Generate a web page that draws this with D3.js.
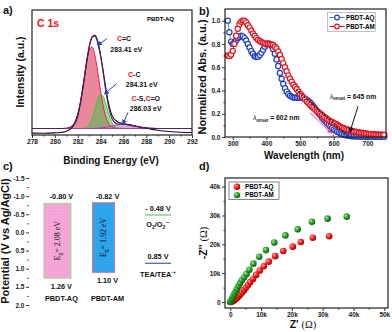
<!DOCTYPE html>
<html>
<head>
<meta charset="utf-8">
<script src="https://cdn.jsdelivr.net/npm/d3@7"></script>
<style>
body{margin:0;background:#fff}
svg{display:block;font-family:"Liberation Sans",Arial,sans-serif}
.axis text{font-size:6.5px;font-weight:bold;fill:#222}
.axis line{stroke:#222;stroke-width:0.9}
.frame{fill:none;stroke:#222;stroke-width:1.2}
.title{font-size:10.5px;font-weight:bold;fill:#111}
.plabel{font-size:11px;font-weight:bold;fill:#111}
.note{font-size:7px;font-weight:bold;fill:#111}
</style>
</head>
<body>
<svg id="fig" width="392" height="332"></svg>
<script>
// ---------- a) XPS C 1s ----------
const xpsEnergy = [278,279,280,280.5,281,281.5,282,282.25,282.5,282.75,283,283.25,283.5,283.75,284,284.25,284.5,284.75,285,285.5,286,286.5,287,287.5,288,288.5,289,290,291,292];
const xpsRaw = [.015,.014,.017,.02,.03,.06,.15,.26,.40,.56,.70,.78,.80,.75,.64,.50,.35,.23,.155,.105,.09,.08,.07,.062,.055,.045,.038,.028,.022,.02];
const xpsEnvelope = [.052,.052,.052,.052,.054,.071,.165,.270,.414,.573,.706,.782,.791,.738,.631,.484,.329,.206,.131,.088,.087,.083,.073,.063,.057,.054,.052,.052,.052,.052];
const xpsCdC = [.052,.052,.052,.052,.054,.071,.165,.269,.412,.564,.676,.705,.639,.505,.352,.222,.135,.087,.065,.053,.052,.052,.052,.052,.052,.052,.052,.052,.052,.052];
const xpsCC = [.052,.052,.052,.052,.052,.052,.052,.052,.054,.061,.082,.128,.202,.282,.326,.306,.235,.155,.097,.056,.052,.052,.052,.052,.052,.052,.052,.052,.052,.052];
const xpsCO = [.052,.052,.052,.052,.052,.052,.052,.052,.052,.052,.052,.053,.054,.055,.057,.060,.063,.068,.073,.083,.087,.083,.073,.063,.057,.054,.052,.052,.052,.052];
const xpsBackground = .052;
const aTicks = [278,280,282,284,286,288,290,292];
const aMinor = [279,281,283,285,287,289,291];

// ---------- b) UV-vis ----------
const wavelength = [285,290,295,300,305,310,315,320,325,330,
  335,340,345,350,355,360,365,370,375,380,
  385,390,395,400,405,410,415,420,425,430,
  435,440,445,450,455,460,465,470,475,480,
  485,490,495,500,505,510,515,520,525,530,
  535,540,545,550,555,560,565,570,575,580,
  585,590,595,600,605,610,615,620,625,630,
  635,640,645,650,655,660,665,670,675,680,
  685,690,695,700,705,710,715,720,725,730,
  735,740,745,750];
const absAQ = [1.00,0.90,0.82,0.80,0.81,0.83,0.85,0.86,0.87,0.865,
  0.85,0.83,0.80,0.77,0.74,0.715,0.695,0.688,0.69,0.705,
  0.725,0.75,0.775,0.795,0.805,0.80,0.785,0.755,0.715,0.665,
  0.61,0.55,0.50,0.455,0.42,0.39,0.37,0.355,0.345,0.34,
  0.338,0.337,0.337,0.337,0.336,0.333,0.327,0.318,0.307,0.295,
  0.28,0.262,0.243,0.223,0.204,0.186,0.168,0.151,0.135,0.12,
  0.105,0.09,0.077,0.065,0.055,0.046,0.038,0.031,0.025,0.02,
  0.016,0.012,0.01,0.008,0.007,0.006,0.005,0.005,0.004,0.004,
  0.004,0.003,0.003,0.003,0.003,0.003,0.002,0.002,0.002,0.002,
  0.002,0.002,0.002,0.002];
const absAM = [0.70,0.695,0.71,0.74,0.80,0.87,0.93,0.97,0.99,1.00,
  1.00,0.985,0.96,0.94,0.915,0.89,0.87,0.85,0.835,0.825,
  0.815,0.81,0.805,0.80,0.80,0.80,0.795,0.79,0.775,0.76,
  0.735,0.705,0.67,0.635,0.60,0.565,0.53,0.50,0.475,0.45,
  0.43,0.41,0.39,0.37,0.355,0.34,0.325,0.305,0.29,0.275,
  0.26,0.25,0.235,0.22,0.21,0.20,0.19,0.175,0.165,0.155,
  0.145,0.135,0.13,0.12,0.115,0.105,0.095,0.088,0.08,0.075,
  0.07,0.065,0.06,0.056,0.052,0.048,0.045,0.042,0.039,0.036,
  0.034,0.032,0.03,0.028,0.027,0.025,0.024,0.023,0.022,0.021,
  0.02,0.02,0.019,0.018];
const tangentAQ = [[490,0.46],[602,0]];
const tangentAM = [[489,0.405],[645,0]];
const bTicks = [300,400,500,600,700];
const bMinor = [350,450,550,650,750];
const bYTicks = [0,0.2,0.4,0.6,0.8,1.0];
const bYMinor = [0.1,0.3,0.5,0.7,0.9];

// ---------- c) band positions ----------
const materials = ["PBDT-AQ","PBDT-AM"];
const cbLevel = [-0.80,-0.82];
const vbLevel = [1.26,1.10];
const gapValue = ["2.08","1.92"];
const coupleLevel = [-0.48,0.85];
const cTicks = [-1.5,-1.0,-0.5,0.0,0.5,1.0,1.5,2.0];
const cMinor = [-1.25,-0.75,-0.25,0.25,0.75,1.25,1.75];

// ---------- d) EIS Nyquist ----------
const zReAQ = [100,400,800,1300,1800,2300,2800,3300,3900,4500,5100,5800,6500,7400,8400,9600,10900,12500,14600,17200,20300,22900,26800,32100];
const zImAQ = [0,100,300,600,1000,1500,2100,2700,3400,4200,5000,5900,6900,8000,9400,10900,12400,14000,15900,17700,19200,20800,22300,22800];
const zReAM = [0,200,400,700,1000,1400,1800,2200,2700,3200,3800,4500,5300,6200,7500,9400,11600,14300,17900,21900,26500,31600,37800];
const zImAM = [0,300,800,1400,2100,2900,3700,4600,5600,6600,7600,8600,9700,11200,13300,15700,18000,20600,23100,25200,27800,28900,29600];
const dTicks = [0,10000,20000,30000,40000,50000];
const dMinor = [5000,15000,25000,35000,45000];
const dYTicks = [0,10000,20000,30000,40000];
const dYMinor = [5000,15000,25000,35000];

const svg = d3.select("#fig");
const defs = svg.append("defs");

function arrowHead(id, color) {
    defs.append("marker").attr("id", id)
        .attr("viewBox", "0 0 10 10").attr("refX", 8).attr("refY", 5)
        .attr("markerWidth", 5).attr("markerHeight", 5).attr("orient", "auto")
        .append("path").attr("d", "M0,0L10,5L0,10z").attr("fill", color);
}
arrowHead("arBlue", "#2340c8");
arrowHead("arPink", "#ff3d7f");
arrowHead("arBlack", "#111");

function sphere(id, hi, mid, lo) {
    const gr = defs.append("radialGradient").attr("id", id)
        .attr("cx", "35%").attr("cy", "35%").attr("r", "65%");
    gr.append("stop").attr("offset", "0%").attr("stop-color", hi);
    gr.append("stop").attr("offset", "50%").attr("stop-color", mid);
    gr.append("stop").attr("offset", "100%").attr("stop-color", lo);
}
sphere("sphRed", "#ffb0b0", "#ff2020", "#b00000");
sphere("sphGreen", "#a8e8a8", "#2ea42e", "#0b650b");

function dots(id, bg, dot) {
    const p = defs.append("pattern").attr("id", id).attr("patternUnits", "userSpaceOnUse")
        .attr("width", 3).attr("height", 3);
    p.append("rect").attr("width", 3).attr("height", 3).attr("fill", bg);
    p.append("circle").attr("cx", 1).attr("cy", 1).attr("r", 0.45).attr("fill", dot);
}
dots("dotPink", "#f7a8d8", "#c76aa6");
dots("dotBlue", "#2ea7ee", "#1a7cc0");

function frame(x, y) {
    svg.append("rect").attr("class", "frame")
        .attr("x", x.range()[0]).attr("y", y.range()[1])
        .attr("width", x.range()[1] - x.range()[0])
        .attr("height", y.range()[0] - y.range()[1]);
}

function bottomAxis(scale, yPos, major, minor, fmt) {
    svg.append("g").attr("class", "axis").attr("transform", "translate(0," + yPos + ")")
        .call(d3.axisBottom(scale).tickValues(minor).tickSize(1.6).tickFormat(""))
        .select(".domain").remove();
    svg.append("g").attr("class", "axis").attr("transform", "translate(0," + yPos + ")")
        .call(d3.axisBottom(scale).tickValues(major).tickSize(3).tickPadding(1.5).tickFormat(fmt))
        .select(".domain").remove();
}

function leftAxis(scale, xPos, major, minor, fmt) {
    svg.append("g").attr("class", "axis").attr("transform", "translate(" + xPos + ",0)")
        .call(d3.axisLeft(scale).tickValues(minor).tickSize(1.6).tickFormat(""))
        .select(".domain").remove();
    svg.append("g").attr("class", "axis").attr("transform", "translate(" + xPos + ",0)")
        .call(d3.axisLeft(scale).tickValues(major).tickSize(3).tickPadding(1.5).tickFormat(fmt))
        .select(".domain").remove();
}

function panelLabel(txt, x, y) {
    svg.append("text").attr("class", "plabel").attr("x", x).attr("y", y).text(txt);
}

function vTitle(txt, x, y, size) {
    svg.append("text").attr("class", "title")
        .attr("transform", "translate(" + x + "," + y + ") rotate(-90)")
        .attr("text-anchor", "middle").style("font-size", size + "px").text(txt);
}

function hTitle(txt, x, y, size) {
    svg.append("text").attr("class", "title").attr("x", x).attr("y", y)
        .attr("text-anchor", "middle").style("font-size", size + "px").text(txt);
}

// ================= panel a =================
const ax = d3.scaleLinear().domain([278, 292]).range([32, 192]);
const ay = d3.scaleLinear().domain([0, 1]).range([135, 10]);

const compArea = function (vals) {
    return d3.area()
        .x(function (d, i) { return ax(xpsEnergy[i]); })
        .y0(ay(xpsBackground))
        .y1(function (d) { return ay(d); })
        .curve(d3.curveMonotoneX)(vals);
};
const xpsLine = d3.line()
    .x(function (d, i) { return ax(xpsEnergy[i]); })
    .y(function (d) { return ay(d); })
    .curve(d3.curveMonotoneX);

svg.append("path").attr("d", compArea(xpsCdC)).attr("fill", "#e46a82").attr("fill-opacity", 0.8);
svg.append("path").attr("d", compArea(xpsCC)).attr("fill", "#4fbf4f").attr("fill-opacity", 0.55);
svg.append("path").attr("d", compArea(xpsCO)).attr("fill", "#b27ab8").attr("fill-opacity", 0.6);

svg.append("path").attr("d", xpsLine(xpsCdC)).attr("fill", "none").attr("stroke", "#ff1450").attr("stroke-width", 1);
svg.append("path").attr("d", xpsLine(xpsCC)).attr("fill", "none").attr("stroke", "#2fd02f").attr("stroke-width", 1);
svg.append("path").attr("d", xpsLine(xpsCO)).attr("fill", "none").attr("stroke", "#c030b0").attr("stroke-width", 1);
svg.append("line")
    .attr("x1", ax(278)).attr("x2", ax(292)).attr("y1", ay(xpsBackground)).attr("y2", ay(xpsBackground))
    .attr("stroke", "#a040c0").attr("stroke-width", 1);
svg.append("path").attr("d", xpsLine(xpsRaw)).attr("fill", "none").attr("stroke", "#111").attr("stroke-width", 1.1);
svg.append("path").attr("d", xpsLine(xpsEnvelope)).attr("fill", "none").attr("stroke", "#5a1a6a").attr("stroke-width", 1.1);

frame(ax, ay);
bottomAxis(ax, 135, aTicks, aMinor, d3.format("d"));

svg.append("text").attr("x", 37).attr("y", 27).attr("fill", "#ee1111")
    .style("font-size", "10.5px").style("font-weight", "bold").text("C 1s");
svg.append("text").attr("x", 147).attr("y", 21).style("font-size", "6px").style("font-weight", "bold").text("PBDT-AQ");

function xpsNote(parts, e, v) {
    const t = svg.append("text").attr("class", "note").attr("text-anchor", "middle")
        .attr("x", ax(e)).attr("y", ay(v));
    parts.forEach(function (p) {
        t.append("tspan").attr("fill", p[1] ? "#ee1111" : "#111").text(p[0]);
    });
}
xpsNote([["C", 1], ["=C", 0]], 286.05, 0.75);
xpsNote([["283.41 eV", 0]], 286.25, 0.665);
xpsNote([["C", 1], ["-C", 0]], 286.95, 0.465);
xpsNote([["284.31 eV", 0]], 287.6, 0.385);
xpsNote([["C", 1], ["-S,", 0], ["C", 1], ["=O", 0]], 287.95, 0.275);
xpsNote([["286.03 eV", 0]], 287.95, 0.19);

[[284.55, 0.77, 283.75, 0.72], [285.4, 0.41, 284.35, 0.33], [286.4, 0.18, 285.95, 0.09]].forEach(function (a) {
    svg.append("line").attr("x1", ax(a[0])).attr("y1", ay(a[1])).attr("x2", ax(a[2])).attr("y2", ay(a[3]))
        .attr("stroke", "#2340c8").attr("stroke-width", 1).attr("marker-end", "url(#arBlue)");
});

panelLabel("a)", 3, 14);
vTitle("Intensity (a.u.)", 24, 72, 10.5);
hTitle("Binding Energy (eV)", 111, 164, 10);

// ================= panel b =================
const bx = d3.scaleLinear().domain([277, 755]).range([225, 386]);
const by = d3.scaleLinear().domain([0, 1.1]).range([137, 9]);

const uvLine = d3.line()
    .x(function (d, i) { return bx(wavelength[i]); })
    .y(function (d) { return by(d); });

function uvSeries(vals, lineColor, markColor) {
    svg.append("path").attr("d", uvLine(vals)).attr("fill", "none").attr("stroke", lineColor).attr("stroke-width", 0.8);
    svg.append("g").selectAll("circle").data(vals).join("circle")
        .attr("cx", function (d, i) { return bx(wavelength[i]); })
        .attr("cy", function (d) { return by(d); })
        .attr("r", 2.6).attr("fill", "#fff").attr("stroke", markColor).attr("stroke-width", 1.2);
}
uvSeries(absAQ, "#1a9090", "#1d3fc4");
uvSeries(absAM, "#c0102a", "#e4141e");

const tanLine = d3.line().x(function (d) { return bx(d[0]); }).y(function (d) { return by(d[1]); });
svg.append("path").attr("d", tanLine(tangentAQ)).attr("stroke", "#ff2a3a").attr("stroke-width", 1.3)
    .attr("stroke-dasharray", "1.3,2").attr("fill", "none");
svg.append("path").attr("d", tanLine(tangentAM)).attr("stroke", "#111").attr("stroke-width", 1.4)
    .attr("stroke-dasharray", "1.4,2").attr("fill", "none");

svg.append("line").attr("x1", bx(529)).attr("y1", by(0.21)).attr("x2", bx(592)).attr("y2", by(0.035))
    .attr("stroke", "#ff3d7f").attr("stroke-width", 1).attr("marker-end", "url(#arPink)");
svg.append("line").attr("x1", bx(672)).attr("y1", by(0.265)).attr("x2", bx(648)).attr("y2", by(0.045))
    .attr("stroke", "#111").attr("stroke-width", 1).attr("marker-end", "url(#arBlack)");

function onsetLabel(nm, x, y) {
    const t = svg.append("text").attr("x", x).attr("y", y).attr("fill", "#111")
        .style("font-size", "6.8px").style("font-weight", "bold");
    t.append("tspan").style("font-style", "italic").style("font-weight", "normal").text("\u03bb");
    t.append("tspan").style("font-size", "4.5px").attr("dy", 1.8).text("onset");
    t.append("tspan").attr("dy", -1.8).text(" = " + nm + " nm");
}
onsetLabel(602, bx(360), by(0.145));
onsetLabel(645, bx(588), by(0.33));

frame(bx, by);
bottomAxis(bx, 137, bTicks, bMinor, d3.format("d"));
leftAxis(by, 225, bYTicks, bYMinor, d3.format(".1f"));

// legend b
const lgB = svg.append("g").attr("transform", "translate(327.5,12.5)");
lgB.append("rect").attr("width", 48).attr("height", 19).attr("fill", "#fff").attr("stroke", "#999").attr("stroke-width", 0.6);
[["PBDT-AQ", "#1a9090", "#1d3fc4"], ["PBDT-AM", "#c0102a", "#e4141e"]].forEach(function (s, i) {
    const yy = 5 + i * 9;
    lgB.append("line").attr("x1", 2).attr("x2", 17).attr("y1", yy).attr("y2", yy).attr("stroke", s[1]).attr("stroke-width", 1);
    lgB.append("circle").attr("cx", 9.5).attr("cy", yy).attr("r", 2.3).attr("fill", "#fff").attr("stroke", s[2]).attr("stroke-width", 1.2);
    lgB.append("text").attr("x", 18.5).attr("y", yy + 2.3).style("font-size", "6.3px").style("font-weight", "bold").text(s[0]);
});

panelLabel("b)", 199, 15);
vTitle("Normalized Abs. (a.u.)", 206, 77, 11);
hTitle("Wavelength (nm)", 304, 159, 10);

// ================= panel c =================
const cx = d3.scaleLinear().domain([0, 3.5]).range([29, 192]);
const cy = d3.scaleLinear().domain([-1.5, 2.0]).range([178, 305]);
const barSlot = [0.61, 1.6];
const barWidth = [27, 22];
const barFill = ["url(#dotPink)", "url(#dotBlue)"];
const barEdge = ["#9fd69f", "#e8708a"];

materials.forEach(function (m, i) {
    const xc = cx(barSlot[i]);
    svg.append("rect").attr("x", xc - barWidth[i] / 2).attr("width", barWidth[i])
        .attr("y", cy(cbLevel[i])).attr("height", cy(vbLevel[i]) - cy(cbLevel[i]))
        .attr("fill", barFill[i]).attr("stroke", barEdge[i]).attr("stroke-width", 1);
    svg.append("text").attr("class", "note").attr("text-anchor", "middle").style("font-size", "7.3px")
        .attr("x", xc + 4).attr("y", cy(cbLevel[i]) - 4).text(cbLevel[i].toFixed(2) + " V");
    svg.append("text").attr("class", "note").attr("text-anchor", "middle").style("font-size", "7.3px")
        .attr("x", xc + 4).attr("y", cy(vbLevel[i]) + 10.5).text(vbLevel[i].toFixed(2) + " V");
    svg.append("text").attr("class", "note").attr("text-anchor", "middle").style("font-size", "7.3px")
        .attr("x", xc + 4).attr("y", 300.5).text(m);
    const g = svg.append("text").attr("text-anchor", "middle")
        .attr("transform", "translate(" + (xc + 2.8) + "," + cy((cbLevel[i] + vbLevel[i]) / 2) + ") rotate(-90)")
        .style("font-family", "'Liberation Serif','Times New Roman',serif").style("font-size", "8px").attr("fill", "#111");
    g.append("tspan").text("E");
    g.append("tspan").style("font-size", "5.5px").attr("dy", 1.6).text("g");
    g.append("tspan").attr("dy", -1.6).text("= " + gapValue[i] + " eV");
});

const coupleSlot = 2.77;
const coupleColor = ["#6cc86c", "#4a57a8"];
coupleLevel.forEach(function (v, i) {
    const xc = cx(coupleSlot);
    svg.append("line").attr("x1", xc - 13).attr("x2", xc + 13).attr("y1", cy(v)).attr("y2", cy(v))
        .attr("stroke", coupleColor[i]).attr("stroke-width", 1.2);
    svg.append("text").attr("class", "note").attr("text-anchor", "middle").style("font-size", "7.3px")
        .attr("x", xc).attr("y", cy(v) - 4).text(v < 0 ? "- " + Math.abs(v).toFixed(2) + " V" : v.toFixed(2) + " V");
});
// couple names with sub/superscripts
(function () {
    const xc = cx(coupleSlot);
    const t1 = svg.append("text").attr("class", "note").attr("text-anchor", "middle").style("font-size", "7.3px")
        .attr("x", xc).attr("y", cy(coupleLevel[0]) + 12);
    t1.append("tspan").text("O");
    t1.append("tspan").style("font-size", "5px").attr("dy", 1.5).text("2");
    t1.append("tspan").attr("dy", -1.5).text("/O");
    t1.append("tspan").style("font-size", "5px").attr("dy", 1.5).text("2");
    t1.append("tspan").style("font-size", "5px").attr("dy", -4.5).text("\u00b7\u2212");
    const t2 = svg.append("text").attr("class", "note").attr("text-anchor", "middle").style("font-size", "7.3px")
        .attr("x", xc).attr("y", cy(coupleLevel[1]) + 13.5);
    t2.append("tspan").text("TEA/TEA");
    t2.append("tspan").style("font-size", "5px").attr("dy", -3).text("\u00b7+");
})();

frame(cx, cy);
leftAxis(cy, 29, cTicks, cMinor, function (d) { return d3.format(".1f")(d).replace("\u2212", "-"); });

panelLabel("c)", 3, 170);
vTitle("Potential (V vs Ag/AgCl)", 9, 241, 11);

// ================= panel d =================
const dx = d3.scaleLinear().domain([-1700, 51200]).range([225, 388]);
const dy = d3.scaleLinear().domain([-2080, 43000]).range([308, 178]);

function nyquist(re, im, fill) {
    svg.append("g").selectAll("circle").data(re).join("circle")
        .attr("cx", function (d) { return dx(d); })
        .attr("cy", function (d, i) { return dy(im[i]); })
        .attr("r", 3.3).attr("fill", fill);
}
nyquist(zReAQ, zImAQ, "url(#sphRed)");
nyquist(zReAM, zImAM, "url(#sphGreen)");

frame(dx, dy);
const kFmt = function (d) { return d === 0 ? "0" : (d / 1000) + "k"; };
bottomAxis(dx, 308, dTicks, dMinor, kFmt);
leftAxis(dy, 225, dYTicks, dYMinor, kFmt);

const lgD = svg.append("g").attr("transform", "translate(229,182)");
lgD.append("rect").attr("width", 50).attr("height", 17.5).attr("fill", "#fff").attr("stroke", "#333").attr("stroke-width", 0.6);
[["PBDT-AQ", "url(#sphRed)"], ["PBDT-AM", "url(#sphGreen)"]].forEach(function (s, i) {
    const yy = 4.8 + i * 8.3;
    lgD.append("circle").attr("cx", 8).attr("cy", yy).attr("r", 3.2).attr("fill", s[1]);
    lgD.append("text").attr("x", 16).attr("y", yy + 2.3).style("font-size", "6.3px").style("font-weight", "bold").text(s[0]);
});

panelLabel("d)", 199, 170);
(function () {
    const t = svg.append("text").attr("class", "title").attr("text-anchor", "middle")
        .attr("transform", "translate(207,243) rotate(-90)").style("font-size", "10.5px");
    t.append("tspan").text("-Z'' ");
    t.append("tspan").style("font-family", "'Liberation Serif',serif").style("font-weight", "normal").text("(\u03a9)");
    const u = svg.append("text").attr("class", "title").attr("text-anchor", "middle")
        .attr("x", 303).attr("y", 328).style("font-size", "10.5px");
    u.append("tspan").text("Z' ");
    u.append("tspan").style("font-family", "'Liberation Serif',serif").style("font-weight", "normal").text("(\u03a9)");
})();
</script>
</body>
</html>
